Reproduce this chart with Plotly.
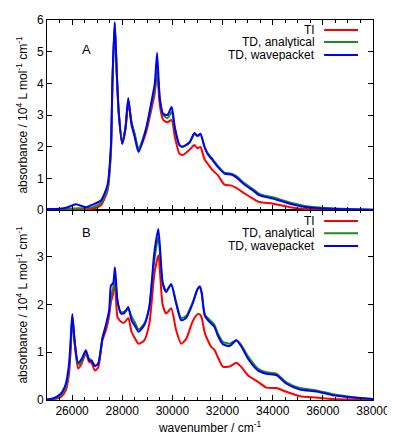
import plotly.graph_objects as go

# Painel A: espectro de absorcao (unidades de 10^4 L mol^-1 cm^-1)
wn_a = [25000, 25500, 25800, 26150, 26550, 26850, 27150, 27410, 27550, 27610, 27700,
        27780, 27860, 28000, 28130, 28240, 28370, 28500, 28650, 28950, 29210, 29300,
        29390, 29500, 29630, 29800, 29970, 30100, 30280, 30410, 30680, 30880, 31000,
        31120, 31280, 31410, 31610, 31810, 32080, 32350, 32550, 32880, 33210, 33480,
        34010, 34680, 35350, 36000, 36410, 37000, 38000]
ti_a = [0.01, 0.01, 0.02, 0.03, 0.03, 0.05, 0.15, 0.6, 1.85, 4.0, 5.85,
        4.3, 3.05, 2.1, 2.55, 3.4, 2.75, 2.35, 1.9, 2.45, 3.35, 3.7,
        4.4, 3.3, 2.85, 2.77, 2.84, 2.3, 1.78, 1.74, 1.9, 2.05, 1.95,
        1.99, 1.6, 1.46, 1.25, 1.1, 0.8, 0.77, 0.7, 0.52, 0.36, 0.25,
        0.2, 0.09, 0.03, 0.02, 0.01, 0.01, 0.0]
td_an_a = [0.02, 0.03, 0.04, 0.05, 0.06, 0.1, 0.22, 0.65, 1.9, 4.0, 5.9,
           4.4, 3.1, 2.12, 2.6, 3.45, 2.78, 2.4, 1.93, 2.55, 3.5, 3.8,
           4.53, 3.5, 3.0, 2.9, 3.1, 2.55, 2.05, 2.0, 2.13, 2.4, 2.33,
           2.38, 2.0, 1.8, 1.6, 1.4, 1.18, 1.15, 1.07, 0.84, 0.66, 0.5,
           0.4, 0.24, 0.12, 0.07, 0.05, 0.03, 0.01]
td_wp_a = [0.03, 0.04, 0.08, 0.18, 0.09, 0.18, 0.3, 0.78, 2.05, 4.15, 5.94,
           4.4, 3.1, 2.09, 2.6, 3.54, 2.7, 2.3, 1.83, 2.57, 3.6, 4.0,
           4.96, 3.5, 3.04, 3.0, 3.25, 2.6, 2.05, 2.0, 2.13, 2.43, 2.35,
           2.41, 1.99, 1.76, 1.57, 1.36, 1.15, 1.12, 1.03, 0.8, 0.62, 0.46,
           0.36, 0.2, 0.09, 0.05, 0.04, 0.02, 0.01]

# Painel B
wn_b = [25000, 25280, 25550, 25750, 25880, 25950, 26010, 26110, 26240, 26370, 26550,
        26680, 26770, 26910, 27040, 27210, 27350, 27480, 27550, 27640, 27710, 27810,
        27950, 28080, 28240, 28370, 28510, 28650, 28880, 29080, 29250, 29300, 29440,
        29610, 29750, 29950, 30150, 30350, 30550, 30810, 31010, 31100, 31170, 31300,
        31550, 31680, 31810, 32010, 32280, 32550, 32750, 33010, 33410, 33750, 34150,
        34550, 35080, 35750, 36410, 37210, 38000]
ti_b = [0.0, 0.02, 0.06, 0.2, 0.55, 1.1, 1.72, 1.15, 0.66, 0.75, 0.98,
        0.8, 0.78, 0.62, 0.68, 1.25, 1.46, 1.77, 2.05, 2.23, 2.54, 1.74,
        1.64, 1.62, 1.72, 1.43, 1.29, 1.18, 1.25, 1.6, 2.5, 2.7, 3.03,
        2.0, 1.81, 1.92, 1.46, 1.18, 1.28, 1.65, 1.8, 1.79, 1.72, 1.39,
        1.11, 1.05, 0.9, 0.7, 0.7, 0.78, 0.69, 0.52, 0.38, 0.26, 0.25,
        0.17, 0.08, 0.05, 0.02, 0.01, 0.0]
td_an_b = [0.01, 0.03, 0.1, 0.28, 0.65, 1.2, 1.75, 1.2, 0.74, 0.8, 1.0,
           0.86, 0.84, 0.72, 0.76, 1.3, 1.55, 1.85, 2.15, 2.35, 2.62, 2.05,
           1.84, 1.85, 1.9, 1.75, 1.62, 1.48, 1.6, 1.95, 2.8, 3.0, 3.42,
           2.45, 2.28, 2.42, 2.05, 1.72, 1.76, 2.05, 2.33, 2.36, 2.24, 1.78,
           1.65, 1.57, 1.4, 1.22, 1.18, 1.25, 1.15, 0.92, 0.66, 0.58, 0.55,
           0.37, 0.25, 0.2, 0.12, 0.06, 0.02]
td_wp_b = [0.01, 0.04, 0.13, 0.34, 0.76, 1.32, 1.8, 1.18, 0.78, 0.85, 1.04,
           0.83, 0.82, 0.71, 0.76, 1.29, 1.57, 1.88, 2.4, 2.45, 2.78, 2.09,
           1.81, 1.82, 1.95, 1.67, 1.55, 1.43, 1.57, 1.95, 2.93, 3.17, 3.58,
           2.47, 2.26, 2.43, 2.02, 1.67, 1.72, 2.02, 2.33, 2.38, 2.24, 1.76,
           1.6, 1.53, 1.35, 1.17, 1.13, 1.25, 1.12, 0.87, 0.62, 0.55, 0.52,
           0.34, 0.22, 0.18, 0.1, 0.05, 0.02]

nomes = ['TI', 'TD, analytical', 'TD, wavepacket']
cores = ['#ff0000', '#1f8a1f', '#0000ff']
FONTE = 'Liberation Sans, Arial, sans-serif'

fig = go.Figure()

series_a = [ti_a, td_an_a, td_wp_a]
series_b = [ti_b, td_an_b, td_wp_b]
for nome, cor, ya in zip(nomes, cores, series_a):
    fig.add_trace(go.Scatter(x=wn_a, y=ya, mode='lines', name=nome, xaxis='x2', yaxis='y2',
                             line=dict(color=cor, width=2, shape='spline', smoothing=0.6),
                             showlegend=False))
for nome, cor, yb in zip(nomes, cores, series_b):
    fig.add_trace(go.Scatter(x=wn_b, y=yb, mode='lines', name=nome, xaxis='x', yaxis='y',
                             line=dict(color=cor, width=2, shape='spline', smoothing=0.6),
                             showlegend=False))

eixo_x = dict(range=[25000, 38000], tickvals=list(range(26000, 38001, 2000)), tickformat='d',
              ticks='inside', ticklen=5, tickcolor='black', mirror='allticks',
              showline=True, linecolor='black', linewidth=1, showgrid=False, zeroline=False,
              ticklabeloverflow='allow',
              minor=dict(dtick=500, tick0=25000, ticks='inside', ticklen=3, tickcolor='black'),
              tickfont=dict(size=12, color='black', family=FONTE))
eixo_y = dict(ticks='inside', ticklen=5, tickcolor='black', mirror='allticks',
              showline=True, linecolor='black', linewidth=1, showgrid=False, zeroline=False,
              ticklabeloverflow='allow',
              tickfont=dict(size=12, color='black', family=FONTE),
              title=dict(text='absorbance / 10<sup>4</sup> L mol<sup>-1</sup> cm<sup>-1</sup>',
                         font=dict(size=12, color='black', family=FONTE), standoff=6))

# a pagina tem 8px de margem no body: figura um pouco menor e margens compensadas
fig.update_layout(
    width=387, height=430,
    margin=dict(l=39, r=20, t=5, b=37),
    plot_bgcolor='white', paper_bgcolor='white',
    font=dict(family=FONTE, size=12, color='black'),
    xaxis=dict(eixo_x, anchor='y',
               title=dict(text='wavenumber / cm<sup>-1</sup>', standoff=6,
                          font=dict(size=12, color='black', family=FONTE))),
    xaxis2=dict(eixo_x, anchor='y2', matches='x', showticklabels=False),
    yaxis=dict(eixo_y, domain=[0, 0.5], range=[0, 3.98], tickvals=[0, 1, 2, 3]),
    yaxis2=dict(eixo_y, domain=[0.5, 1], range=[0, 6], tickvals=[0, 1, 2, 3, 4, 5, 6]),
)

# Legendas no estilo gnuplot (texto a esquerda, amostra de linha a direita)
leg_y = {'A': [0.974, 0.942, 0.908], 'B': [0.471, 0.439, 0.405]}
for painel, ys in leg_y.items():
    for nome, cor, yy in zip(nomes, cores, ys):
        fig.add_annotation(x=0.826, y=yy, xref='paper', yref='paper', text=nome,
                           showarrow=False, xanchor='right', yanchor='middle',
                           height=12, borderpad=0,
                           font=dict(size=12, color='black', family=FONTE))
        fig.add_shape(type='line', xref='paper', yref='paper', x0=0.85, x1=0.954,
                      y0=yy, y1=yy, line=dict(color=cor, width=2))

fig.add_annotation(x=0.1006, y=0.947, xref='paper', yref='paper', text='A', showarrow=False,
                   font=dict(size=13, color='black', family=FONTE))
fig.add_annotation(x=0.1006, y=0.442, xref='paper', yref='paper', text='B', showarrow=False,
                   font=dict(size=13, color='black', family=FONTE))

fig.write_html('out.html')
